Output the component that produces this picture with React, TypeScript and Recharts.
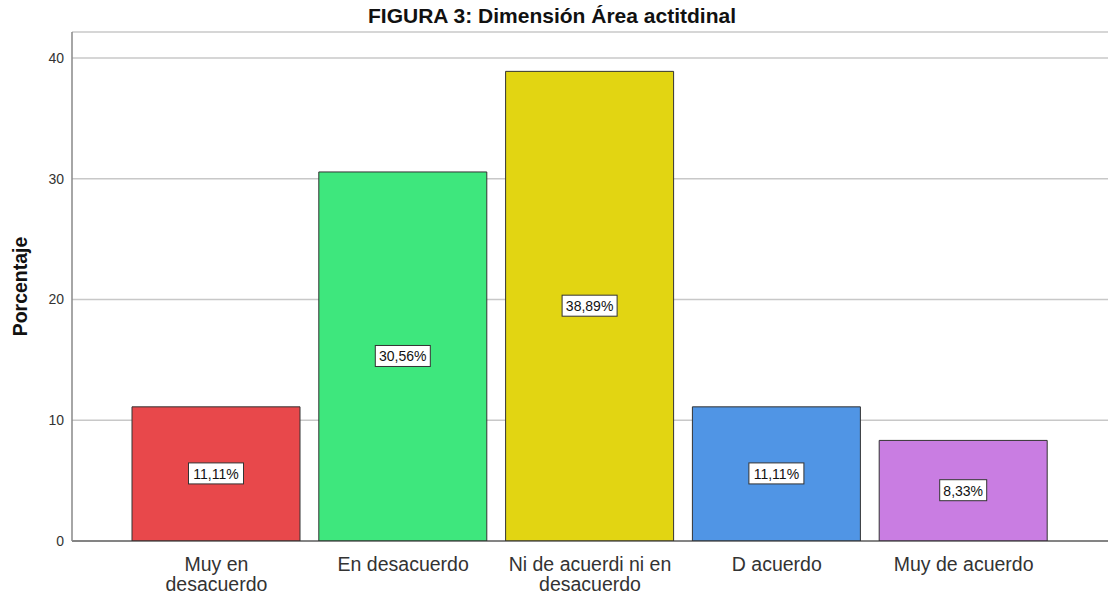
import React from "react";
import { BarChart, Bar, XAxis, YAxis, CartesianGrid, LabelList, Cell } from "recharts";

// chart values
const categories = ["Muy en desacuerdo", "En desacuerdo", "Ni de acuerdi ni en desacuerdo", "D acuerdo", "Muy de acuerdo"];
const tickLabels = [["Muy en", "desacuerdo"], ["En desacuerdo"], ["Ni de acuerdi ni en", "desacuerdo"], ["D acuerdo"], ["Muy de acuerdo"]];
const percentages = [11.11, 30.56, 38.89, 11.11, 8.33];
const yTicks = [0, 10, 20, 30, 40];
const barColors = ["#E8484B", "#3EE77D", "#E2D512", "#5095E5", "#C97DE2"];

const data = categories.map((name, i) => ({ name, value: percentages[i], idx: i }));

const FONT = "Arial, 'Liberation Sans', sans-serif";

const CategoryTick = (props: any) => {
  const { x, y, index } = props;
  const lines = tickLabels[index] || [];
  return (
    <text x={x} y={y} textAnchor="middle" fill="#333" fontSize={19.5} fontFamily={FONT}>
      {lines.map((l, i) => (
        <tspan key={i} x={x} dy={i === 0 ? 22 : 19.5}>
          {l}
        </tspan>
      ))}
    </text>
  );
};

const BoxLabel = (props: any) => {
  const { x, y, width, height, value } = props;
  const txt = value.toFixed(2).replace(".", ",") + "%";
  const cx = x + width / 2;
  const cy = y + height / 2;
  const w = txt.length * 8 + 7;
  return (
    <g>
      <rect x={cx - w / 2} y={cy - 11} width={w} height={21} fill="#fff" stroke="#333" strokeWidth={1} />
      <text x={cx} y={cy + 5} textAnchor="middle" fontSize={14} fontFamily={FONT} fill="#111">
        {txt}
      </text>
    </g>
  );
};

export default function App() {
  return (
    <div style={{ position: "absolute", left: 0, top: 0, width: 1108, height: 596, background: "#fff" }}>
      <div
        style={{
          position: "absolute",
          top: 4,
          left: -2,
          width: 1108,
          textAlign: "center",
          fontFamily: FONT,
          fontWeight: "bold",
          fontSize: 21,
          color: "#111",
        }}
      >
        FIGURA 3: Dimensión Área actitdinal
      </div>
      <BarChart width={1108} height={596} data={data} margin={{ top: 32, right: 0, bottom: 0, left: 0 }}>
        <CartesianGrid vertical={false} stroke="#C8C8C8" strokeWidth={1.5} />
        <XAxis
          dataKey="name"
          interval={0}
          tick={<CategoryTick />}
          tickLine={false}
          axisLine={{ stroke: "#333", strokeWidth: 1 }}
          padding={{ left: 51, right: 51 }}
          height={55}
        />
        <YAxis
          width={72}
          domain={[0, 42.15]}
          ticks={yTicks}
          allowDataOverflow
          tickLine={false}
          axisLine={{ stroke: "#888", strokeWidth: 1.5 }}
          tick={{ fill: "#333", fontSize: 14, fontFamily: FONT }}
          label={{
            value: "Porcentaje",
            angle: -90,
            position: "insideLeft",
            offset: 20,
            style: { textAnchor: "middle", fontWeight: "bold", fontSize: 19.5, fontFamily: FONT, fill: "#111" },
          }}
        />
        <Bar dataKey="value" barSize={168} stroke="#333" strokeWidth={1} isAnimationActive={false}>
          {data.map((d) => (
            <Cell key={d.name} fill={barColors[d.idx]} />
          ))}
          <LabelList dataKey="value" content={<BoxLabel />} />
        </Bar>
      </BarChart>
    </div>
  );
}
